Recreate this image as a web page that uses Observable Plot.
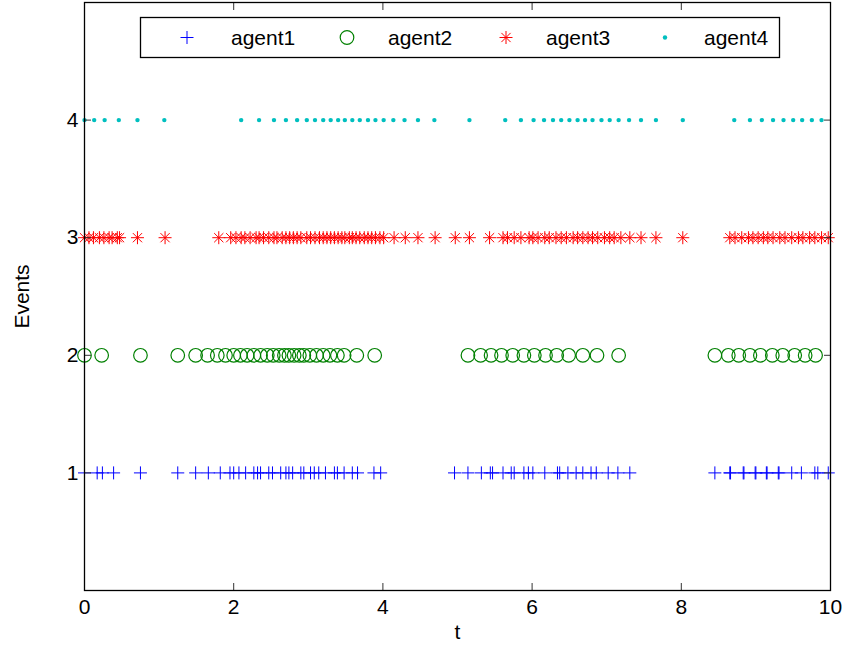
<!DOCTYPE html>
<html>
<head>
<meta charset="utf-8">
<script src="https://cdn.jsdelivr.net/npm/d3@7"></script>
<script src="https://cdn.jsdelivr.net/npm/@observablehq/plot@0.6"></script>
<style>
  html, body { margin: 0; padding: 0; background: #fff; }
  #wrap { position: relative; width: 843px; height: 652px; }
  #legend { position: absolute; left: 0; top: 0; }
</style>
</head>
<body>
<div id="wrap"></div>
<script>
// ---- data (event times per agent) ----
const agentNames = ["agent1", "agent2", "agent3", "agent4"];
const agentLevels = [1, 2, 3, 4];
const agentColors = ["#0000ff", "#008000", "#ff0000", "#00bfbf"];

const agent1 = [0, 0.17, 0.24, 0.39, 0.75, 1.25, 1.49, 1.66, 1.82, 1.95, 2.0, 2.07, 2.16, 2.27, 2.32, 2.36,
  2.47, 2.52, 2.63, 2.70, 2.74, 2.79, 2.90, 2.94, 3.03, 3.08, 3.14, 3.23, 3.35, 3.39, 3.48, 3.59, 3.66,
  3.88, 3.97, 4.96, 5.14, 5.32, 5.44, 5.47, 5.61, 5.72, 5.76, 5.89, 5.95, 6.01, 6.17, 6.34, 6.37, 6.48,
  6.59, 6.68, 6.79, 6.86, 7.02, 7.15, 7.31, 8.45, 8.65, 8.66, 8.83, 8.84, 8.99, 9.0, 9.14, 9.15, 9.30,
  9.31, 9.48, 9.61, 9.79, 9.83, 9.97];
const agent2 = [0, 0.23, 0.75, 1.25, 1.49, 1.65, 1.78, 1.89, 2.0, 2.09, 2.18, 2.27, 2.36, 2.45, 2.53, 2.61,
  2.68, 2.74, 2.81, 2.88, 2.94, 3.02, 3.11, 3.20, 3.29, 3.39, 3.48, 3.65, 3.89, 5.14, 5.31, 5.45, 5.59,
  5.74, 5.89, 6.03, 6.18, 6.33, 6.49, 6.68, 6.87, 7.16, 8.45, 8.63, 8.77, 8.92, 9.06, 9.22, 9.36, 9.52,
  9.66, 9.80];
const agent3 = [0, 0.06, 0.12, 0.2, 0.26, 0.33, 0.37, 0.44, 0.47, 0.71, 1.08, 1.80, 1.96, 2.03, 2.10, 2.15,
  2.22, 2.30, 2.34, 2.40, 2.47, 2.54, 2.58, 2.65, 2.70, 2.75, 2.80, 2.85, 2.90, 2.98, 3.03, 3.09, 3.15,
  3.20, 3.25, 3.30, 3.35, 3.40, 3.45, 3.49, 3.55, 3.59, 3.64, 3.69, 3.75, 3.80, 3.85, 3.90, 3.96, 4.01,
  4.15, 4.30, 4.47, 4.70, 4.97, 5.16, 5.43, 5.61, 5.67, 5.76, 5.85, 5.96, 6.01, 6.08, 6.17, 6.23, 6.32,
  6.39, 6.46, 6.55, 6.61, 6.68, 6.75, 6.81, 6.88, 6.97, 7.04, 7.10, 7.19, 7.31, 7.46, 7.66, 8.02, 8.65,
  8.72, 8.81, 8.90, 8.96, 9.03, 9.10, 9.16, 9.23, 9.32, 9.39, 9.48, 9.57, 9.63, 9.72, 9.79, 9.88, 9.97];
const agent4 = [0, 0.13, 0.27, 0.46, 0.71, 1.07, 2.1, 2.34, 2.54, 2.70, 2.85, 2.98, 3.09, 3.20, 3.30, 3.40,
  3.49, 3.59, 3.69, 3.80, 3.90, 4.01, 4.14, 4.29, 4.47, 4.69, 5.16, 5.64, 5.85, 6.02, 6.16, 6.28, 6.39,
  6.50, 6.61, 6.71, 6.81, 6.93, 7.04, 7.16, 7.30, 7.46, 7.66, 8.02, 8.71, 8.92, 9.08, 9.23, 9.37, 9.50,
  9.62, 9.75, 9.88];

const xTicks = [0, 2, 4, 6, 8, 10];
const yTicks = [1, 2, 3, 4];
const xLabel = "t";
const yLabel = "Events";

// ---- build table ----
const series = [agent1, agent2, agent3, agent4];
const rows = series.flatMap((times, i) => times.map(t => ({t, level: agentLevels[i], agent: agentNames[i]})));
const byAgent = name => rows.filter(d => d.agent === name);

// ---- custom MATLAB-like symbols ----
const plusSym = {draw(ctx, size) { const r = Math.sqrt(size / Math.PI);
  ctx.moveTo(-r, 0); ctx.lineTo(r, 0); ctx.moveTo(0, -r); ctx.lineTo(0, r); }};
const starSym = {draw(ctx, size) { const r = Math.sqrt(size / Math.PI); const d = r / Math.SQRT2;
  ctx.moveTo(-r, 0); ctx.lineTo(r, 0); ctx.moveTo(0, -r); ctx.lineTo(0, r);
  ctx.moveTo(-d, -d); ctx.lineTo(d, d); ctx.moveTo(-d, d); ctx.lineTo(d, -d); }};

const font = "'Liberation Sans', Arial, Helvetica, sans-serif";
const fs = 21;

const plot = Plot.plot({
  width: 843, height: 652,
  marginLeft: 84, marginRight: 13, marginTop: 2, marginBottom: 62,
  x: {domain: [0, 10]},
  y: {domain: [0, 5]},
  style: {fontFamily: font, fontSize: fs + "px", color: "black", background: "white"},
  marks: [
    Plot.dot(byAgent("agent1"), {x: "t", y: "level", symbol: plusSym, r: 6.5, fill: "none", stroke: agentColors[0], strokeWidth: 1}),
    Plot.dot(byAgent("agent2"), {x: "t", y: "level", symbol: "circle", r: 6.8, fill: "none", stroke: agentColors[1], strokeWidth: 1.2}),
    Plot.dot(byAgent("agent3"), {x: "t", y: "level", symbol: starSym, r: 6.5, fill: "none", stroke: agentColors[2], strokeWidth: 1}),
    Plot.dot(byAgent("agent4"), {x: "t", y: "level", r: 2.2, fill: agentColors[3], stroke: "none"}),
    Plot.axisX({ticks: xTicks, tickSize: -7, tickPadding: 16, tickFormat: "d", label: null, fontSize: fs, stroke: "#333"}),
    Plot.axisX({anchor: "top", ticks: xTicks, tickSize: -7, tickFormat: () => "", label: null, stroke: "#333"}),
    Plot.axisY({ticks: yTicks, tickSize: -7, tickPadding: 13, tickFormat: "d", label: null, fontSize: fs, stroke: "#333"}),
    Plot.axisY({anchor: "right", ticks: yTicks, tickSize: -7, tickFormat: () => "", label: null, stroke: "#333"}),
    Plot.frame({stroke: "black", strokeWidth: 1.3}),
    Plot.text([xLabel], {frameAnchor: "bottom", textAnchor: "middle", dy: 48, fontSize: fs, fill: "black"}),
    Plot.text([yLabel], {frameAnchor: "left", textAnchor: "middle", dx: -62, rotate: -90, fontSize: fs, fill: "black"})
  ]
});

const wrap = document.getElementById("wrap");
wrap.appendChild(plot);

// ---- legend (inside plot, top) ----
const lg = d3.select(wrap).append("svg").attr("id", "legend")
  .attr("width", 843).attr("height", 652).style("pointer-events", "none");
lg.append("rect").attr("x", 140.5).attr("y", 17.5).attr("width", 639).attr("height", 40)
  .attr("fill", "white").attr("stroke", "black").attr("stroke-width", 1.3);
const markerX = [187, 347, 506, 665];
const textX = [231, 388, 546, 704];
const ly = 37.5;
agentNames.forEach((name, i) => {
  const g = lg.append("g").attr("transform", `translate(${markerX[i]},${ly})`);
  const r = 6.5, d = r / Math.SQRT2;
  if (i === 0) {
    g.append("path").attr("d", `M${-r},0H${r}M0,${-r}V${r}`).attr("stroke", agentColors[0]).attr("fill", "none");
  } else if (i === 1) {
    g.append("circle").attr("r", 6.8).attr("stroke", agentColors[1]).attr("stroke-width", 1.2).attr("fill", "none");
  } else if (i === 2) {
    g.append("path").attr("d", `M${-r},0H${r}M0,${-r}V${r}M${-d},${-d}L${d},${d}M${-d},${d}L${d},${-d}`)
      .attr("stroke", agentColors[2]).attr("fill", "none");
  } else {
    g.append("circle").attr("r", 2.2).attr("fill", agentColors[3]);
  }
  lg.append("text").attr("x", textX[i]).attr("y", ly).attr("dy", "0.35em")
    .attr("font-family", font).attr("font-size", fs).attr("fill", "black").text(name);
});
</script>
</body>
</html>
